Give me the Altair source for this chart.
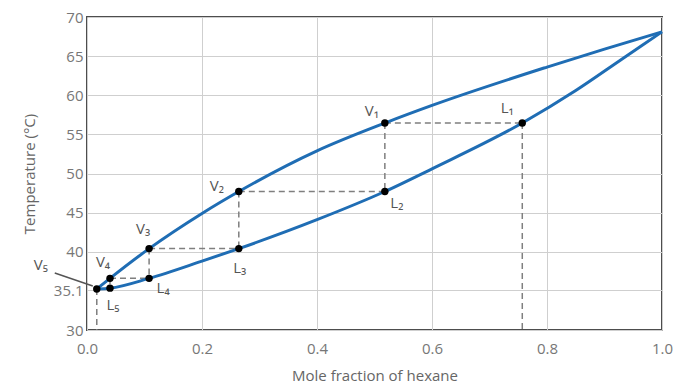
import altair as alt
import pandas as pd

# ---- data ----
vap_x = [0.017, 0.040, 0.108, 0.200, 0.264, 0.400, 0.518, 0.600, 0.800, 0.900, 1.000]
vap_T = [35.25, 36.6, 40.4, 44.9, 47.7, 52.9, 56.45, 58.7, 63.6, 65.9, 68.1]
liq_x = [0.017, 0.040, 0.108, 0.200, 0.264, 0.400, 0.518, 0.600, 0.757, 0.850, 0.930, 1.000]
liq_T = [35.25, 35.35, 36.6, 38.8, 40.4, 44.1, 47.7, 50.6, 56.45, 60.6, 64.6, 68.1]

# step points V1..V5 and L1..L5
V_x = [0.518, 0.264, 0.108, 0.040, 0.017]
V_T = [56.45, 47.7, 40.4, 36.6, 35.25]
L_x = [0.757, 0.518, 0.264, 0.108, 0.040]
L_T = [56.45, 47.7, 40.4, 36.6, 35.35]
subs = ["₁", "₂", "₃", "₄", "₅"]

y_ticks = [30, 35.1, 40, 45, 50, 55, 60, 65, 70]
x_ticks = [0.0, 0.2, 0.4, 0.6, 0.8, 1.0]

# ---- tables ----
curves = pd.concat([
    pd.DataFrame({"x": vap_x, "T": vap_T, "curve": "vapor"}),
    pd.DataFrame({"x": liq_x, "T": liq_T, "curve": "liquid"}),
])
pts = pd.DataFrame({
    "x": V_x + L_x,
    "T": V_T + L_T,
    "name": ["V" + s for s in subs] + ["L" + s for s in subs],
})

segs = []
for i in range(5):
    # horizontal V_i -> L_i
    segs.append({"x": V_x[i], "x2": L_x[i], "T": V_T[i], "T2": V_T[i]})
    # vertical V_i -> L_{i+1}
    if i < 4:
        segs.append({"x": V_x[i], "x2": V_x[i], "T": V_T[i], "T2": L_T[i + 1]})
segs.append({"x": L_x[0], "x2": L_x[0], "T": L_T[0], "T2": y_ticks[0]})
segs.append({"x": V_x[4], "x2": V_x[4], "T": V_T[4], "T2": y_ticks[0]})
segs = pd.DataFrame(segs)

xs = alt.Scale(domain=[0, 1], nice=False, zero=False)
ys = alt.Scale(domain=[30, 70], nice=False, zero=False)

FONT = "Open Sans"

base_x = alt.X("x:Q", scale=xs, title="Mole fraction of hexane",
               axis=alt.Axis(values=x_ticks, format=".1f", labelPadding=11,
                             labelFlush=False, titlePadding=12))
base_y = alt.Y("T:Q", scale=ys, title="Temperature (°C)",
               axis=alt.Axis(values=y_ticks,
                             labelExpr="datum.value == 35.1 ? '35.1' : format(datum.value, 'd')",
                             labelFlush=False, labelPadding=4, titlePadding=16))

dashes = alt.Chart(segs).mark_rule(color="#7f7f7f", strokeDash=[6, 4], strokeWidth=1.5).encode(
    x=base_x, x2="x2:Q", y=base_y, y2="T2:Q")

lines = alt.Chart(curves).mark_line(color="#1f6db4", strokeWidth=3, interpolate="monotone").encode(
    x=base_x, y=base_y, detail="curve:N")

dots = alt.Chart(pts).mark_circle(color="black", size=55, opacity=1).encode(x=base_x, y=base_y)

# leader line from V5 label to the V5 point
v5 = pts[pts["name"] == "V₅"]
leader = alt.Chart(v5).mark_rule(color="#555", strokeWidth=1.5,
                                 xOffset=-42, yOffset=-16, x2Offset=-4, y2Offset=-3).encode(
    x=base_x, x2="x:Q", y=base_y, y2="T:Q")

# label offsets (pixels) relative to each point
offsets = {
    "V₁": (-13, -12), "L₁": (-15, -15), "V₂": (-22, -5), "L₂": (12, 12),
    "V₃": (-6, -20), "L₃": (1, 19), "V₄": (-7, -16), "L₄": (14, 10),
    "V₅": (-56, -24), "L₅": (3, 17),
}
labels = []
for nm, (dx, dy) in offsets.items():
    labels.append(
        alt.Chart(pts[pts["name"] == nm]).mark_text(
            dx=dx, dy=dy, font=FONT, fontSize=15, color="#555", align="center", baseline="middle"
        ).encode(x=base_x, y=base_y, text="name:N")
    )

chart = alt.layer(dashes, lines, leader, dots, *labels).properties(
    width=575, height=313,
    padding={"left": 87, "top": 17, "right": 24, "bottom": 57},
    autosize=alt.AutoSizeParams(type="none"),
).configure_view(
    stroke="#4d4d4d", strokeWidth=2
).configure_axis(
    domain=False, ticks=False, tickSize=0,
    grid=True, gridColor="#cfcfcf", gridWidth=1,
    labelFont=FONT, labelFontSize=15, labelColor="#777",
    titleFont=FONT, titleFontSize=15, titleColor="#666", titleFontWeight="normal",
)

chart.save("out.html", embed_options={"renderer": "svg", "actions": False})
